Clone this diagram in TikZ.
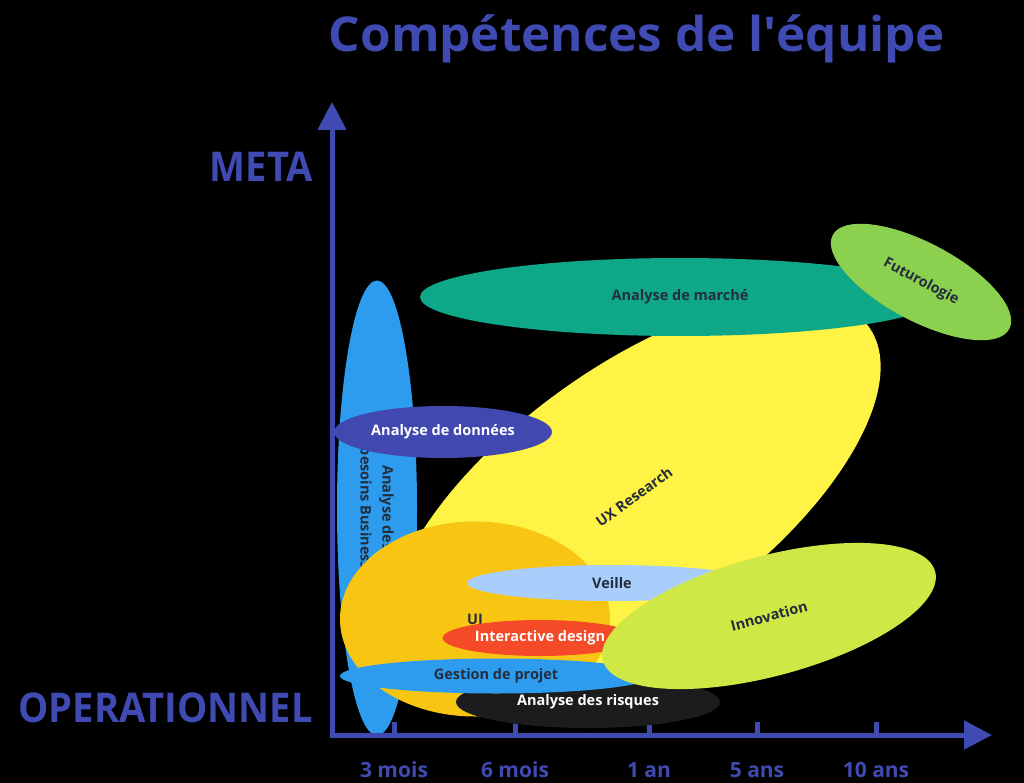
\documentclass[tikz,border=0pt]{standalone}
\usepackage{fontspec}
\setmainfont{Open Sans}
\newfontfamily\narrowsans{Open Sans}[FakeStretch=0.93]
\newfontfamily\widesans{Open Sans}[FakeStretch=1.03]
\usetikzlibrary{shapes.geometric,arrows.meta}

\definecolor{axisblue}{RGB}{63,74,179}
\definecolor{labeldark}{RGB}{35,45,60}
\definecolor{skyblue}{RGB}{45,156,238}
\definecolor{uxyellow}{RGB}{255,243,69}
\definecolor{marketteal}{RGB}{14,168,136}
\definecolor{futuregreen}{RGB}{140,208,79}
\definecolor{datapurple}{RGB}{65,73,177}
\definecolor{uiorange}{RGB}{249,197,19}
\definecolor{watchblue}{RGB}{169,206,251}
\definecolor{designred}{RGB}{244,74,39}
\definecolor{riskdark}{RGB}{28,28,28}
\definecolor{innolime}{RGB}{207,232,69}

\begin{document}
\begin{tikzpicture}[
  x=1pt,
  y=-1pt,
  blob/.style={
    ellipse,
    inner sep=0pt,
    text=labeldark,
    font=\bfseries\fontsize{14.5}{22}\selectfont
  },
  blob light/.style={
    blob,
    text=white
  },
  axis line/.style={
    draw=axisblue,
    line width=5pt,
    -{Triangle[length=28pt,width=28pt]}
  },
  tick mark/.style={
    draw=axisblue,
    line width=5pt
  },
  axis label/.style={
    text=axisblue,
    inner sep=0pt,
    font=\narrowsans\bfseries\fontsize{41}{44}\selectfont
  },
  time label/.style={
    text=axisblue,
    inner sep=0pt,
    anchor=base,
    font=\bfseries\fontsize{21}{24}\selectfont
  },
]
\useasboundingbox (0,0) rectangle (1024,783);
\fill[black] (0,0) rectangle (1024,783);

\node[anchor=base, text=axisblue, inner sep=0pt,
  font=\widesans\bfseries\fontsize{48}{50}\selectfont] (title) at (637,52) {Comp\'etences de l\textquotesingle\'equipe};

\foreach \x/\t in {394/3 mois, 515/6 mois, 649/1 an, 757/5 ans, 876/10 ans}{
  \draw[tick mark] (\x,735) -- ++(0,-13);
  \node[time label] (t\x) at (\x,777) {\t};
}

\node[blob, fill=skyblue, rotate=-90, minimum width=455pt, minimum height=80pt,
  align=center] (needs) at (377,508) {Analyse des\\besoins Business};
\node[blob, fill=uxyellow, rotate=36, minimum width=580pt, minimum height=258pt] (ux) at (634,497) {UX Research};
\node[blob, fill=marketteal, minimum width=520pt, minimum height=78pt] (market) at (680,297) {Analyse de march\'e};
\node[blob, fill=futuregreen, rotate=-28, minimum width=200pt, minimum height=78pt] (future) at (921,282) {Futurologie};
\node[blob light, fill=datapurple, minimum width=218pt, minimum height=52pt] (data) at (443,432) {Analyse de donn\'ees};
\node[blob, fill=uiorange, minimum width=270pt, minimum height=195pt] (ui) at (475,619) {UI};
\node[blob, fill=watchblue, minimum width=290pt, minimum height=36pt] (watch) at (612,583) {Veille};
\node[blob light, fill=designred, minimum width=195pt, minimum height=36pt] (design) at (540,638) {Interactive design};
\node[blob light, fill=riskdark, minimum width=264pt, minimum height=52pt] (risk) at (588,702) {Analyse des risques};
\node[blob, fill=skyblue, minimum width=312pt, minimum height=35pt] (project) at (496,676) {Gestion de projet};
\node[blob, fill=innolime, rotate=15, minimum width=344pt, minimum height=120pt] (inno) at (769,616) {Innovation};

\coordinate (origin) at (332,735);
\coordinate (ytip) at (332,102);
\coordinate (xtip) at (992,735);
\draw[axis line] (origin) -- (ytip);
\draw[axis line] ([xshift=-2.5pt]origin) -- (xtip);

\node[axis label, anchor=base east] (meta) at (313,182) {META};
\node[axis label, anchor=base east] (oper) at (313,722) {OPERATIONNEL};
\end{tikzpicture}
\end{document}
